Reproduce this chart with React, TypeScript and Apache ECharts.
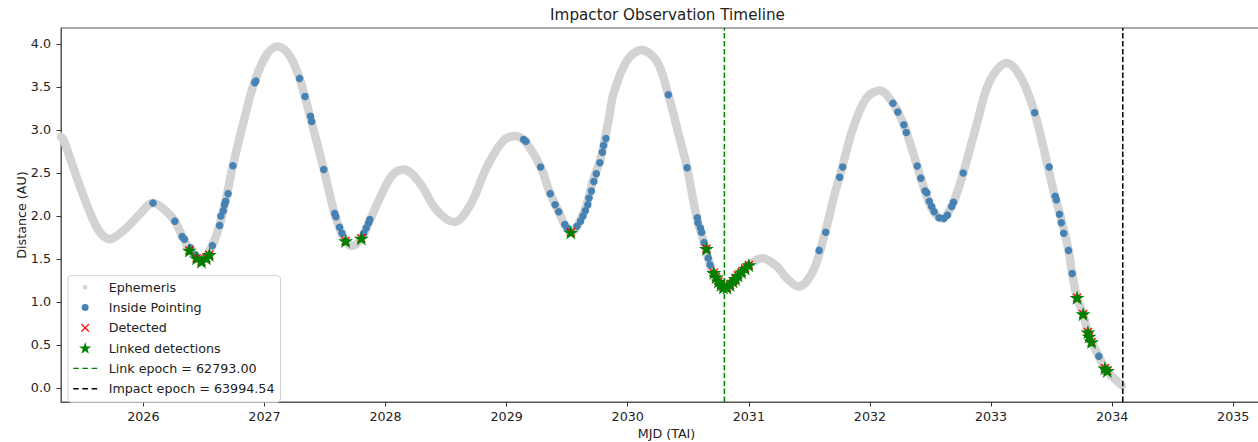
import { useEffect, useRef } from "react";
import * as echarts from "echarts";

const FONT = "DejaVu Sans";

// Ephemeris track: [decimal year, distance (AU)]
const ephemeris: [number, number][] = [
  [2025.32, 2.92], [2025.34, 2.89], [2025.48, 2.33], [2025.59, 1.94], [2025.66, 1.78],
  [2025.725, 1.73], [2025.79, 1.78], [2025.86, 1.86], [2025.97, 2.02], [2026.08, 2.15],
  [2026.17, 2.08], [2026.26, 1.94], [2026.33, 1.74], [2026.39, 1.59], [2026.47, 1.48],
  [2026.56, 1.63], [2026.63, 1.9], [2026.69, 2.25], [2026.74, 2.59], [2026.85, 3.22],
  [2026.92, 3.57], [2027.02, 3.88], [2027.11, 3.97], [2027.21, 3.86], [2027.29, 3.6],
  [2027.38, 3.14], [2027.49, 2.54], [2027.58, 2.02], [2027.62, 1.86], [2027.67, 1.71],
  [2027.72, 1.65], [2027.8, 1.74], [2027.87, 1.95], [2027.98, 2.29], [2028.06, 2.48],
  [2028.15, 2.54], [2028.285, 2.38], [2028.42, 2.07], [2028.57, 1.93], [2028.7, 2.13],
  [2028.84, 2.58], [2028.97, 2.87], [2029.07, 2.93], [2029.15, 2.87], [2029.28, 2.57],
  [2029.36, 2.26], [2029.43, 2.05], [2029.48, 1.9], [2029.53, 1.81], [2029.59, 1.9],
  [2029.66, 2.13], [2029.71, 2.4], [2029.77, 2.64], [2029.81, 2.89], [2029.85, 3.18],
  [2029.88, 3.41], [2029.99, 3.8], [2030.115, 3.93], [2030.24, 3.8], [2030.335, 3.41],
  [2030.42, 2.95], [2030.49, 2.56], [2030.57, 1.98], [2030.63, 1.69], [2030.68, 1.43],
  [2030.72, 1.28], [2030.8, 1.17], [2030.9, 1.28], [2031.0, 1.43], [2031.11, 1.51],
  [2031.23, 1.415], [2031.31, 1.28], [2031.41, 1.18], [2031.53, 1.36], [2031.63, 1.81],
  [2031.7, 2.21], [2031.77, 2.56], [2031.86, 3.02], [2031.97, 3.37], [2032.08, 3.46],
  [2032.19, 3.31], [2032.28, 3.06], [2032.39, 2.58], [2032.455, 2.29], [2032.51, 2.09],
  [2032.59, 1.97], [2032.68, 2.13], [2032.77, 2.5], [2032.88, 3.06], [2032.99, 3.57],
  [2033.13, 3.78], [2033.25, 3.6], [2033.36, 3.2], [2033.47, 2.57], [2033.53, 2.21],
  [2033.57, 2.02], [2033.64, 1.6], [2033.67, 1.33], [2033.71, 1.05], [2033.76, 0.86],
  [2033.81, 0.6], [2033.89, 0.37], [2033.95, 0.21], [2034.08, 0.03],
];

// Observations inside the pointing footprint
const insidePointing: [number, number][] = [
  [2026.08, 2.15], [2026.26, 1.94], [2026.32, 1.76], [2026.34, 1.73], [2026.39, 1.63],
  [2026.43, 1.55], [2026.57, 1.655], [2026.63, 1.89], [2026.64, 2.0], [2026.66, 2.06],
  [2026.67, 2.13], [2026.68, 2.17], [2026.7, 2.26], [2026.74, 2.585], [2026.92, 3.55],
  [2026.93, 3.57], [2027.29, 3.6], [2027.335, 3.39], [2027.38, 3.16], [2027.39, 3.1],
  [2027.49, 2.54], [2027.58, 2.03], [2027.59, 1.99], [2027.62, 1.87], [2027.64, 1.8],
  [2027.82, 1.8], [2027.84, 1.86], [2027.86, 1.92], [2027.87, 1.96], [2029.14, 2.89],
  [2029.16, 2.87], [2029.28, 2.57], [2029.36, 2.26], [2029.4, 2.13], [2029.43, 2.05],
  [2029.48, 1.9], [2029.5, 1.86], [2029.58, 1.88], [2029.61, 1.94], [2029.63, 2.0],
  [2029.65, 2.06], [2029.67, 2.13], [2029.68, 2.21], [2029.7, 2.29], [2029.72, 2.4],
  [2029.74, 2.49], [2029.77, 2.62], [2029.79, 2.74], [2029.8, 2.82], [2029.82, 2.9],
  [2030.335, 3.41], [2030.49, 2.56], [2030.575, 1.98], [2030.58, 1.92], [2030.6, 1.86],
  [2030.61, 1.81], [2030.63, 1.69], [2030.665, 1.51], [2030.68, 1.43], [2031.58, 1.6],
  [2031.635, 1.81], [2031.75, 2.45], [2031.775, 2.57], [2032.19, 3.31], [2032.23, 3.21],
  [2032.28, 3.06], [2032.3, 2.97], [2032.39, 2.58], [2032.42, 2.44], [2032.455, 2.29],
  [2032.47, 2.27], [2032.49, 2.17], [2032.51, 2.11], [2032.53, 2.05], [2032.57, 1.98],
  [2032.61, 1.97], [2032.64, 2.01], [2032.675, 2.11], [2032.69, 2.16], [2032.77, 2.5],
  [2033.36, 3.2], [2033.48, 2.57], [2033.53, 2.23], [2033.54, 2.19], [2033.565, 2.02],
  [2033.58, 1.92], [2033.6, 1.8], [2033.64, 1.6], [2033.67, 1.33], [2033.89, 0.37],
];

// Detections (every one of them was linked)
const detected: [number, number][] = [
  [2026.38, 1.6], [2026.44, 1.51], [2026.48, 1.47], [2026.52, 1.51], [2026.545, 1.55],
  [2027.67, 1.71], [2027.8, 1.74], [2029.53, 1.81], [2030.65, 1.62], [2030.71, 1.34],
  [2030.73, 1.29], [2030.75, 1.24], [2030.77, 1.2], [2030.79, 1.17], [2030.82, 1.17],
  [2030.845, 1.2], [2030.87, 1.24], [2030.89, 1.27], [2030.91, 1.31], [2030.94, 1.35],
  [2030.97, 1.39], [2031.0, 1.43], [2033.71, 1.05], [2033.76, 0.86], [2033.8, 0.65],
  [2033.81, 0.6], [2033.83, 0.535], [2033.94, 0.23], [2033.96, 0.2],
];
const linked: [number, number][] = detected.map((p) => [p[0], p[1]]);

const yearTicks = [2026, 2027, 2028, 2029, 2030, 2031, 2032, 2033, 2034, 2035];
const distanceTicks = [0, 0.5, 1.0, 1.5, 2.0, 2.5, 3.0, 3.5, 4.0];

const LINK_EPOCH_MJD = 62793.0;
const IMPACT_EPOCH_MJD = 63994.54;

const X_MIN = 2025.32;
const X_MAX = 2035.32;
const Y_MIN = -0.163;
const Y_MAX = 4.186;

const mjdToYear = (mjd: number) => 2000 + (mjd - 51544.0) / 365.25;

const STAR =
  "M13.5 0.5 L14.85 4.64 L19.21 4.65 L15.69 7.21 L17.03 11.35 L13.5 8.8 L9.97 11.35 L11.31 7.21 L7.79 4.65 L12.15 4.64 Z";
const STAR_BIG =
  "M13.5 -0.5 L15.06 4.3 L20.1 4.31 L16.03 7.27 L17.58 12.1 L13.5 9.13 L9.42 12.1 L10.97 7.27 L6.9 4.31 L11.94 4.3 Z";
const CROSS = "M10 1.5 L18 9.5 L17 10.5 L9 2.5 Z M17 1.5 L18 2.5 L10 10.5 L9 9.5 Z";
const BOX = "M0 -0.5 M27 12.5 ";
const DASH = "path://" + BOX + "M0.5 5.25 h6 v1.5 h-6 Z M10.5 5.25 h6 v1.5 h-6 Z M20.5 5.25 h6 v1.5 h-6 Z";

export default function App() {
  const ref = useRef<HTMLDivElement>(null);

  useEffect(() => {
    if (!ref.current) return;
    const chart = echarts.init(ref.current, undefined, { renderer: "svg" });
    const linkYear = mjdToYear(LINK_EPOCH_MJD);
    const impactYear = mjdToYear(IMPACT_EPOCH_MJD);
    const linkName = `Link epoch = ${LINK_EPOCH_MJD.toFixed(2)}`;
    const impactName = `Impact epoch = ${IMPACT_EPOCH_MJD.toFixed(2)}`;
    const textColor = "#222";

    chart.setOption({
      animation: false,
      backgroundColor: "#ffffff",
      textStyle: { fontFamily: FONT },
      title: {
        text: "Impactor Observation Timeline",
        left: 667.5,
        top: 7,
        padding: 0,
        textAlign: "center",
        textStyle: { fontFamily: FONT, fontSize: 15.2, fontWeight: "normal", color: textColor },
      },
      grid: {
        left: 61,
        top: 28,
        right: -14,
        bottom: 40,
        show: true,
        borderColor: "#555",
        borderWidth: 1,
        containLabel: false,
        outerBoundsMode: "none",
      },
      legend: {
        orient: "vertical",
        left: 68,
        top: 275.7,
        itemWidth: 27,
        itemHeight: 12,
        itemGap: 7.3,
        padding: [5, 6, 7, 4.7],
        backgroundColor: "rgba(255,255,255,0.85)",
        borderColor: "#d0d0d0",
        borderWidth: 1,
        borderRadius: 3,
        selectedMode: false,
        itemStyle: { borderWidth: 0 },
        textStyle: { fontFamily: FONT, fontSize: 12.7, color: textColor, padding: [0, 0, 0, 5] },
        data: [
          { name: "Ephemeris", icon: "path://" + BOX + "M11 6 a2.5 2.5 0 1 0 5 0 a2.5 2.5 0 1 0 -5 0 Z" },
          { name: "Inside Pointing", icon: "path://" + BOX + "M9.75 6 a3.75 3.75 0 1 0 7.5 0 a3.75 3.75 0 1 0 -7.5 0 Z" },
          { name: "Detected", icon: "path://" + BOX + CROSS },
          { name: "Linked detections", icon: "path://" + BOX + STAR_BIG },
          { name: linkName, icon: DASH },
          { name: impactName, icon: DASH },
        ],
      },
      xAxis: {
        type: "value",
        min: X_MIN,
        max: X_MAX,
        name: "MJD (TAI)",
        nameLocation: "middle",
        nameGap: 25,
        nameMoveOverlap: false,
        nameTextStyle: { fontFamily: FONT, fontSize: 12.7, color: textColor },
        splitLine: { show: false },
        axisLine: { onZero: false, lineStyle: { color: "#555", width: 1 } },
        axisTick: { show: true, customValues: yearTicks, length: 4.5, lineStyle: { color: "#333" } },
        axisLabel: {
          customValues: yearTicks,
          margin: 8,
          fontFamily: FONT,
          fontSize: 12.7,
          color: textColor,
          formatter: (v: number) => String(Math.round(v)),
        },
      },
      yAxis: {
        type: "value",
        min: Y_MIN,
        max: Y_MAX,
        name: "Distance (AU)",
        nameLocation: "middle",
        nameGap: 33,
        nameMoveOverlap: false,
        nameTextStyle: { fontFamily: FONT, fontSize: 12.7, color: textColor },
        splitLine: { show: false },
        axisLine: { show: true, onZero: false, lineStyle: { color: "#555", width: 1 } },
        axisTick: { show: true, customValues: distanceTicks, length: 4.5, lineStyle: { color: "#333" } },
        axisLabel: {
          customValues: distanceTicks,
          margin: 10,
          fontFamily: FONT,
          fontSize: 12.7,
          color: textColor,
          formatter: (v: number) => v.toFixed(1),
        },
      },
      series: [
        {
          name: "Ephemeris",
          type: "line",
          data: ephemeris,
          smooth: 0.35,
          symbol: "none",
          silent: true,
          z: 1,
          color: "#d3d3d3",
          itemStyle: { color: "#d3d3d3" },
          lineStyle: { color: "#d3d3d3", width: 8.5, cap: "round", join: "round" },
        },
        {
          name: "Inside Pointing",
          type: "scatter",
          data: insidePointing,
          symbol: "circle",
          symbolSize: 7.5,
          z: 2,
          color: "#4682b4",
          itemStyle: { color: "#4682b4", opacity: 1 },
        },
        {
          name: "Detected",
          type: "scatter",
          data: detected,
          symbol: "path://" + CROSS,
          symbolSize: 9,
          symbolKeepAspect: true,
          z: 3,
          color: "#ff0000",
          itemStyle: { color: "#ff0000", opacity: 1 },
        },
        {
          name: "Linked detections",
          type: "scatter",
          data: linked,
          symbol: "path://" + STAR,
          symbolSize: 15,
          symbolKeepAspect: true,
          z: 4,
          color: "#008000",
          itemStyle: { color: "#008000", opacity: 1 },
        },
        {
          name: linkName,
          type: "line",
          data: [[linkYear, Y_MIN], [linkYear, Y_MAX]],
          symbol: "none",
          z: 5,
          color: "#008000",
          itemStyle: { color: "#008000" },
          lineStyle: { color: "#008000", width: 1.5, type: [5.5, 2.4] },
        },
        {
          name: impactName,
          type: "line",
          data: [[impactYear, Y_MIN], [impactYear, Y_MAX]],
          symbol: "none",
          z: 5,
          color: "#000000",
          itemStyle: { color: "#000000" },
          lineStyle: { color: "#000000", width: 1.5, type: [5.5, 2.4] },
        },
      ],
    });

    return () => chart.dispose();
  }, []);

  return (
    <div
      ref={ref}
      style={{ position: "fixed", left: 0, top: 0, width: 1258, height: 442, background: "#fff" }}
    />
  );
}
